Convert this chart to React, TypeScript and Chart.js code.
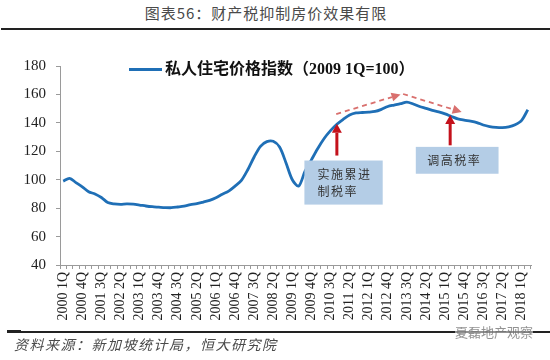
import React, { useEffect, useRef } from "react";
import { Chart, registerables } from "chart.js";

Chart.register(...registerables);

const TITLE = "图表56：财产税抑制房价效果有限";
const SERIES_LABEL = "私人住宅价格指数（2009 1Q=100）";
const SOURCE = "资料来源：新加坡统计局，恒大研究院";
const WATERMARK = "夏磊地产观察";

const YEARS = [2000, 2001, 2002, 2003, 2004, 2005, 2006, 2007, 2008, 2009, 2010, 2011, 2012, 2013, 2014, 2015, 2016, 2017, 2018];
const QUARTERS = ["1Q", "2Q", "3Q", "4Q"];
const LAST_QUARTER = "2018 2Q";

const categories: string[] = [];
outer: for (const yr of YEARS) {
  for (const q of QUARTERS) {
    const lab = `${yr} ${q}`;
    categories.push(lab);
    if (lab === LAST_QUARTER) break outer;
  }
}

const priceIndex = [
  99, 101, 98, 95, 91.5, 90, 87.5, 84, 83, 82.7,
  83, 82.8, 82.2, 81.5, 81, 80.7, 80.4, 80.3, 80.8, 81.4,
  82.5, 83.2, 84.3, 85.5, 87.3, 89.8, 92, 95.5, 99.5, 107,
  116, 123.5, 126.8, 127, 123, 112, 100, 95.5, 106, 114,
  122, 129, 134.5, 139, 142.5, 145.5, 147, 147.3, 147.5, 148,
  149.5, 151.5, 152.5, 153.5, 154.6, 153.3, 151.5, 150.2, 148.8, 147.7,
  146.3, 144.5, 142.8, 141.9, 141.2, 140.2, 138.5, 137.4, 136.8, 136.6,
  137.2, 138.7, 141.6, 149.2,
];

const Y_MIN = 40;
const Y_MAX = 180;
const Y_STEP = 20;
const LABEL_EVERY = 3;

// annotation layer (in data coordinates: category index, index value)
const BOXES = [
  { x0: 37.9, x1: 50.2, yTop: 113.5, yBottom: 82.5, lines: ["实施累进", "制税率"], align: "left" },
  { x0: 55.4, x1: 68.4, yTop: 123.1, yBottom: 104.2, lines: ["调高税率"], align: "center" },
];
const RED_ARROWS = [
  { x: 43, from: 117, to: 139.3 },
  { x: 60.8, from: 124.2, to: 145.6 },
];
const DASHED_ARROWS = [
  { x0: 42.9, y0: 146.2, x1: 53, y1: 160 },
  { x0: 53.4, y0: 160.3, x1: 62.6, y1: 147.6 },
];

const BLUE = "#1f6fb6";

function drawArrow(ctx: CanvasRenderingContext2D, x0: number, y0: number, x1: number, y1: number, color: string, width: number, headLen: number, headW: number, dash: number[]) {
  const ang = Math.atan2(y1 - y0, x1 - x0);
  const bx = x1 - Math.cos(ang) * headLen;
  const by = y1 - Math.sin(ang) * headLen;
  ctx.save();
  ctx.strokeStyle = color;
  ctx.fillStyle = color;
  ctx.lineWidth = width;
  ctx.setLineDash(dash);
  ctx.beginPath();
  ctx.moveTo(x0, y0);
  ctx.lineTo(bx, by);
  ctx.stroke();
  ctx.setLineDash([]);
  ctx.beginPath();
  ctx.moveTo(x1, y1);
  ctx.lineTo(bx + Math.sin(ang) * headW / 2, by - Math.cos(ang) * headW / 2);
  ctx.lineTo(bx - Math.sin(ang) * headW / 2, by + Math.cos(ang) * headW / 2);
  ctx.closePath();
  ctx.fill();
  ctx.restore();
}

const overlayPlugin = {
  id: "overlay",
  afterDatasetsDraw(chart: any) {
    const { ctx, scales } = chart;
    const xs = scales.x;
    const ys = scales.y;
    const px = (i: number) => xs.getPixelForValue(i);
    const py = (v: number) => ys.getPixelForValue(v);
    ctx.save();

    // legend
    ctx.strokeStyle = BLUE;
    ctx.lineWidth = 3;
    ctx.beginPath();
    ctx.moveTo(129, 69.5);
    ctx.lineTo(162, 69.5);
    ctx.stroke();
    ctx.fillStyle = "#111";
    ctx.font = "bold 16px 'Liberation Serif', 'Noto Sans CJK SC'";
    ctx.textBaseline = "middle";
    ctx.textAlign = "left";
    ctx.fillText(chart.data.datasets[0].label, 165, 70);

    // boxes
    for (const b of BOXES) {
      const l = px(b.x0), r = px(b.x1), t = py(b.yTop), bt = py(b.yBottom);
      ctx.fillStyle = "#b4cde6";
      ctx.fillRect(l, t, r - l, bt - t);
      ctx.fillStyle = "#333";
      ctx.font = "12px 'Noto Sans CJK SC'";
      (ctx as any).letterSpacing = "1.5px";
      ctx.textBaseline = "middle";
      const n = b.lines.length;
      const lh = 17;
      const cy = (t + bt) / 2;
      b.lines.forEach((line, k) => {
        const yy = cy + (k - (n - 1) / 2) * lh;
        if (b.align === "left") {
          ctx.textAlign = "left";
          ctx.fillText(line, l + 13, yy);
        } else {
          ctx.textAlign = "center";
          ctx.fillText(line, (l + r) / 2 - 3, yy);
        }
      });
      (ctx as any).letterSpacing = "0px";
    }

    // red arrows
    for (const a of RED_ARROWS) {
      drawArrow(ctx, px(a.x), py(a.from), px(a.x), py(a.to), "#c4111b", 3, 9, 10, []);
    }
    // dashed arrows
    for (const a of DASHED_ARROWS) {
      drawArrow(ctx, px(a.x0), py(a.y0), px(a.x1), py(a.y1), "#d9706e", 1.8, 9, 9, [5, 4]);
    }
    ctx.restore();
  },
};

export default function App() {
  const ref = useRef<HTMLCanvasElement | null>(null);

  useEffect(() => {
    if (!ref.current) return;
    const chart = new Chart(ref.current, {
      type: "line",
      data: {
        labels: categories,
        datasets: [
          {
            label: SERIES_LABEL,
            data: priceIndex,
            borderColor: BLUE,
            backgroundColor: BLUE,
            borderWidth: 2.8,
            pointRadius: 0,
            tension: 0.3,
            fill: false,
          },
        ],
      },
      options: {
        animation: false,
        responsive: false,
        devicePixelRatio: 1,
        layout: { padding: { left: 0, right: 19, top: 66, bottom: 0 } },
        plugins: {
          legend: { display: false },
          tooltip: { enabled: false },
          title: { display: false },
        },
        scales: {
          x: {
            type: "category",
            offset: true,
            grid: {
              display: true,
              offset: true,
              drawOnChartArea: false,
              drawTicks: true,
              tickLength: 4,
              color: "#9a9a9a",
            },
            border: { display: true, color: "#9a9a9a", width: 1 },
            ticks: {
              autoSkip: false,
              maxRotation: 90,
              minRotation: 90,
              padding: 3,
              color: "#222",
              font: { family: "'Liberation Serif', 'Times New Roman', serif", size: 14 },
              callback: (_v: any, i: number) => (i % LABEL_EVERY === 0 ? categories[i] : ""),
            },
            afterFit: (s: any) => {
              s.height = 95;
            },
          },
          y: {
            min: Y_MIN,
            max: Y_MAX,
            grid: {
              display: true,
              drawOnChartArea: false,
              drawTicks: true,
              tickLength: 4,
              color: "#9a9a9a",
            },
            border: { display: true, color: "#9a9a9a", width: 1 },
            ticks: {
              stepSize: Y_STEP,
              padding: 10,
              color: "#222",
              font: { family: "'Liberation Serif', 'Times New Roman', serif", size: 15 },
            },
            afterFit: (s: any) => {
              s.width = 60;
            },
          },
        },
      },
      plugins: [overlayPlugin],
    } as any);
    return () => chart.destroy();
  }, []);

  return (
    <div style={{ position: "fixed", left: 0, top: 0, width: 550, height: 360, background: "#fff", overflow: "hidden" }}>
      <div
        style={{
          position: "absolute",
          left: 0,
          top: 3,
          width: 532,
          textAlign: "center",
          fontFamily: "'Noto Sans CJK SC', sans-serif",
          fontSize: 15,
          color: "#4a4a4a",
          lineHeight: "20px",
          letterSpacing: 1,
        }}
      >
        {TITLE}
      </div>
      <div style={{ position: "absolute", left: 1, top: 28, width: 549, height: 2, background: "#222" }} />
      <canvas ref={ref} width={550} height={360} style={{ position: "absolute", left: 0, top: 0 }} />
      <div style={{ position: "absolute", left: 7, top: 331, width: 543, height: 1.5, background: "#222" }} />
      <div style={{ position: "absolute", left: 7, top: 330, width: 14, height: 3, background: "#222" }} />
      <div
        style={{
          position: "absolute",
          left: 14,
          top: 335,
          fontFamily: "'Noto Sans CJK SC', sans-serif",
          fontStyle: "italic",
          fontSize: 14,
          letterSpacing: 1.5,
          color: "#4a4a4a",
          lineHeight: "18px",
        }}
      >
        {SOURCE}
      </div>
      <div
        style={{
          position: "absolute",
          left: 455,
          top: 324,
          fontFamily: "'Noto Sans CJK SC', sans-serif",
          fontSize: 13,
          color: "rgba(110,110,110,0.75)",
          lineHeight: "16px",
          background: "rgba(255,255,255,0.5)",
        }}
      >
        {WATERMARK}
      </div>
    </div>
  );
}
